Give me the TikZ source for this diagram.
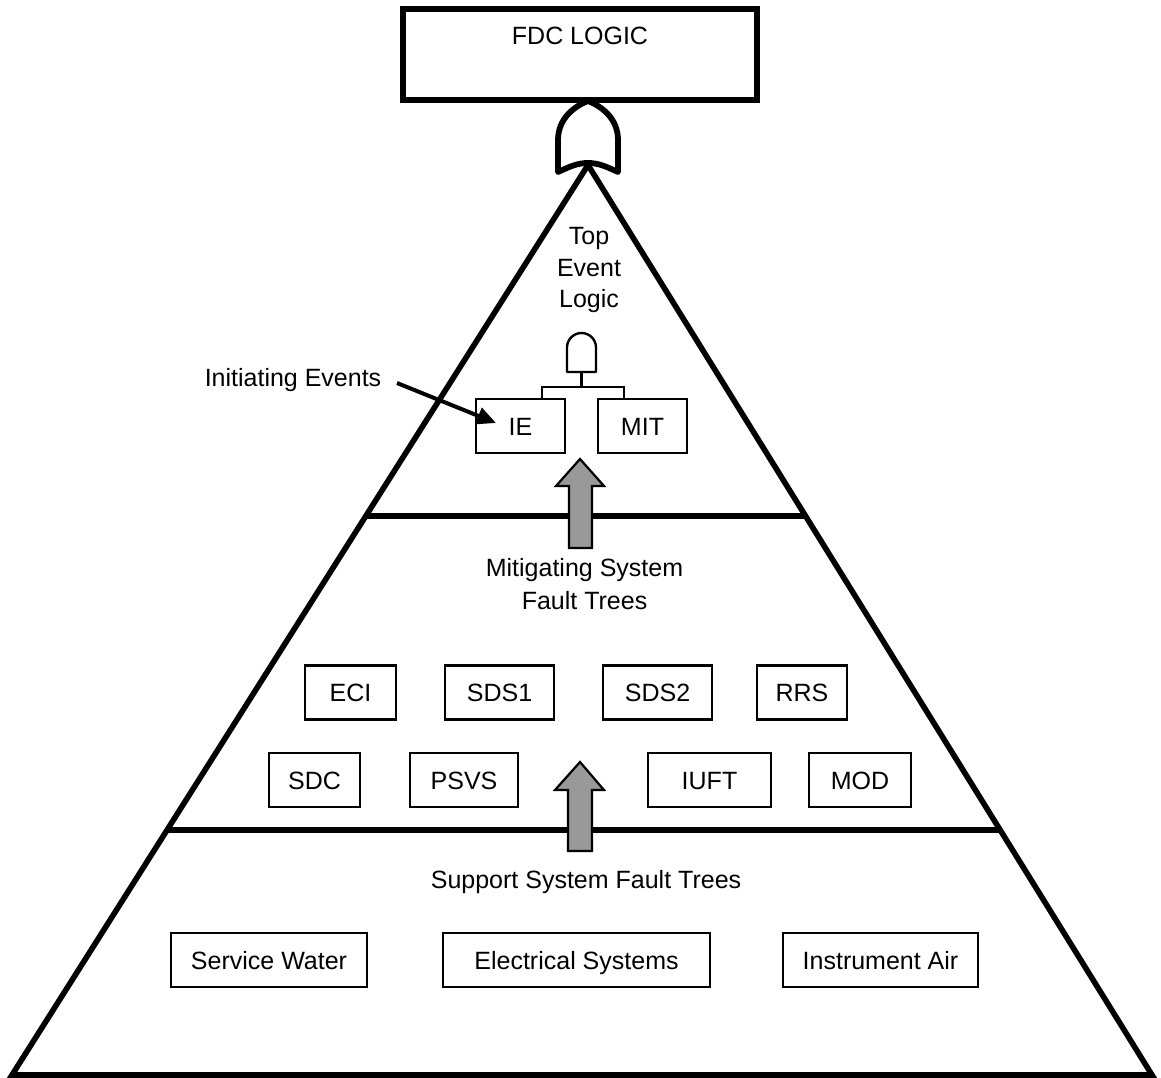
\documentclass[tikz,border=0pt]{standalone}
\usepackage{fontspec}
\setmainfont{Liberation Sans}
\usetikzlibrary{arrows.meta,calc}
\definecolor{arrowgray}{HTML}{999999}
\begin{document}
\begin{tikzpicture}[x=1pt,y=-1pt,
  txt/.style={font=\fontsize{25}{31.5}\selectfont, inner sep=0pt, align=center},
  box/.style={txt, draw, line width=2.2pt, minimum height=54pt, text height=18pt, text depth=0pt},
  heavy/.style={line width=5.6pt},
  thinline/.style={line width=2.4pt},
  grayarrow/.style={fill=arrowgray, draw, line width=2.2pt, line join=miter},
]
\useasboundingbox (0,0) rectangle (1161,1078);

% pyramid
\coordinate (apex) at (588,165);
\coordinate (bl) at (12,1075);
\coordinate (br) at (1152,1075);
\draw[heavy, line join=miter] (bl) -- (apex) -- (br) -- cycle;
\draw[heavy] ($(apex)!0.3857!(bl)$) -- ($(apex)!0.3857!(br)$);
\draw[heavy] ($(apex)!0.7308!(bl)$) -- ($(apex)!0.7308!(br)$);

% FDC box
\node[draw, line width=5.6pt, minimum width=354pt, minimum height=91pt, inner sep=0pt] (fdc) at (580,54.5) {};
\node[txt] (fdct) at (580,36) {FDC LOGIC};

% OR gate
\draw[line width=5.8pt, line join=round, fill=white]
  (558,172) -- (558,140) .. controls (558,118) and (575,106) .. (588,101)
  .. controls (601,106) and (618,118) .. (618,140) -- (618,172)
  .. controls (605,166) and (598,163) .. (588,163)
  .. controls (578,163) and (571,166) .. (558,172) -- cycle;

% Top event logic
\node[txt] (tel) at (589,270) {Top\\Event\\Logic};

% AND gate
\draw[thinline, line join=round]
  (567,372) -- (567,347.5) .. controls (567,339.5) and (573.5,333) .. (581.5,333)
  .. controls (589.5,333) and (596,339.5) .. (596,347.5) -- (596,372) -- cycle;
\coordinate (andout) at (581.5,372);
\coordinate (barmid) at (581.5,387);

\node[box, minimum width=89pt] (ie) at (520.5,426) {IE};
\node[box, minimum width=89pt] (mit) at (642.5,426) {MIT};
\draw[thinline] (andout) -- (barmid);
\draw[thinline] ([xshift=-24pt]ie.north east) |- (barmid) -| ([xshift=27pt]mit.north west);

% Initiating events
\node[txt] (iel) at (293,380) {Initiating Events};
\coordinate (iestart) at (397,383);
\coordinate (ietip) at (496,423);
\draw[line width=4pt, -{Triangle[length=19pt,width=17pt]}] (iestart) -- (ietip);

% Gray arrows
\draw[grayarrow] (569,548) -- (569,486) -- (556,486) -- (580,459) -- (604,486) -- (592,486) -- (592,548) -- cycle;
\draw[grayarrow] (568,851) -- (568,790) -- (555,790) -- (580,762) -- (604,790) -- (592,790) -- (592,851) -- cycle;

% Mitigating systems
\node[txt] (msft) at (584.5,584) {Mitigating System\\[1.5pt]Fault Trees};
\node[box, minimum width=91pt] (eci) at (350.5,692.5) {ECI};
\node[box, minimum width=109pt] (sdsone) at (499.5,692.5) {SDS1};
\node[box, minimum width=109pt] (sdstwo) at (657.5,692.5) {SDS2};
\node[box, minimum width=90pt] (rrs) at (802,692.5) {RRS};
\node[box, minimum width=91pt] (sdc) at (314.5,780) {SDC};
\node[box, minimum width=108pt] (psvs) at (464,780) {PSVS};
\node[box, minimum width=123pt] (iuft) at (709.5,780) {IUFT};
\node[box, minimum width=102pt] (mod) at (860,780) {MOD};

% Support systems
\node[txt] (ssft) at (586,882.5) {Support System Fault Trees};
\node[box, minimum width=196pt] (sw) at (269,960) {Service Water};
\node[box, minimum width=267pt] (es) at (576.5,960) {Electrical Systems};
\node[box, minimum width=195pt] (ia) at (880.5,960) {Instrument Air};
\end{tikzpicture}
\end{document}
